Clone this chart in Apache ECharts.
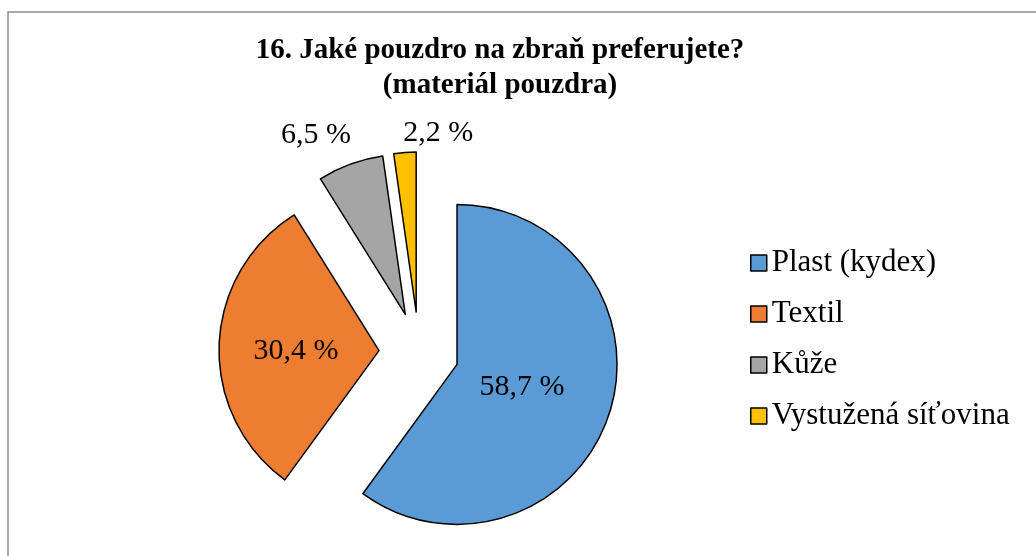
<!DOCTYPE html>
<html>
<head>
<meta charset="utf-8">
<script src="https://cdn.jsdelivr.net/npm/echarts@6/dist/echarts.min.js"></script>
<style>
html,body{margin:0;padding:0;background:#fff;}
#chart{width:1036px;height:556px;}
</style>
</head>
<body>
<div id="chart"></div>
<script>
// Data
var categories = ['Plast (kydex)', 'Textil', 'Kůže', 'Vystužená síťovina'];
var values = [58.7, 30.4, 6.5, 2.2];
var colors = ['#5B9BD5', '#ED7D31', '#A5A5A5', '#FFC000'];
var titleText = '16. Jaké pouzdro na zbraň preferujete?\n(materiál pouzdra)';

var FONT = "'Liberation Serif', 'Times New Roman', serif";

var chart = echarts.init(document.getElementById('chart'), null, {renderer: 'canvas'});

var pieData = categories.map(function (name, i) {
  var outside = i >= 2;
  return {
    name: name,
    value: values[i],
    selected: true,
    itemStyle: {color: colors[i]},
    label: {position: outside ? 'outside' : 'inside'}
  };
});

var option = {
  backgroundColor: '#ffffff',
  animation: false,
  graphic: [{
    type: 'rect',
    z: -1,
    shape: {x: 8, y: 12, width: 1200, height: 700},
    style: {fill: 'none', stroke: '#8f8f8f', lineWidth: 1.5}
  }],
  title: {
    text: titleText,
    left: 495,
    top: 28,
    textAlign: 'center',
    textStyle: {
      fontFamily: FONT,
      fontWeight: 'bold',
      fontSize: 29,
      lineHeight: 35,
      color: '#000'
    }
  },
  legend: {
    orient: 'vertical',
    left: 745,
    top: 241,
    icon: 'rect',
    itemWidth: 16,
    itemHeight: 16,
    itemGap: 17,
    selectedMode: false,
    itemStyle: {borderColor: '#000', borderWidth: 1.5},
    textStyle: {
      fontFamily: FONT,
      fontSize: 31,
      lineHeight: 34,
      color: '#000'
    },
    data: categories
  },
  series: [{
    type: 'pie',
    center: [419, 352],
    radius: 160,
    startAngle: 90,
    clockwise: true,
    selectedMode: 'multiple',
    selectedOffset: 40,
    avoidLabelOverlap: false,
    emphasis: {disabled: true},
    select: {itemStyle: {borderColor: '#000', borderWidth: 1.5}},
    itemStyle: {borderColor: '#000', borderWidth: 1.5},
    label: {
      show: true,
      fontFamily: FONT,
      fontSize: 30,
      color: '#000',
      formatter: function (p) {
        return String(p.value).replace('.', ',') + ' %';
      }
    },
    labelLine: {show: false, length: 10, length2: 0},
    labelLayout: function (p) {
      if (p.dataIndex === 0) {
        return {dx: -14, dy: -3};
      }
      if (p.dataIndex === 1) {
        return {dy: 3};
      }
      if (p.dataIndex === 2) {
        return {dx: 9, dy: -20};
      }
      if (p.dataIndex === 3) {
        return {dx: 74, dy: -9};
      }
    },
    data: pieData
  }]
};

chart.setOption(option);
</script>
</body>
</html>
